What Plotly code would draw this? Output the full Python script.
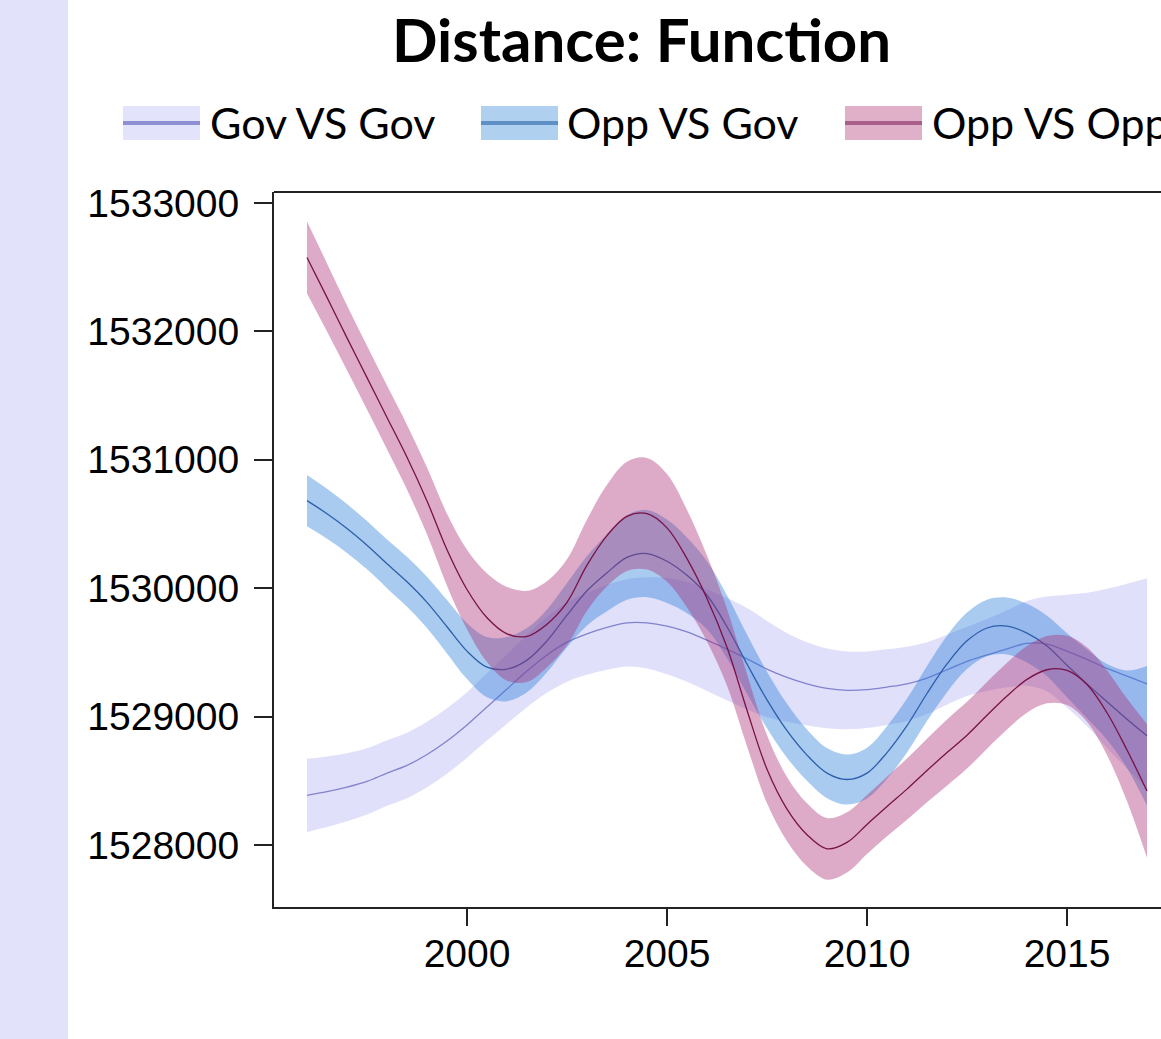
import plotly.graph_objects as go

# ---------------- data ----------------
years = [1996.0, 1996.5, 1997.0, 1997.5, 1998.0, 1998.5, 1999.0, 1999.5, 2000.0, 2000.5,
         2001.0, 2001.5, 2002.0, 2002.5, 2003.0, 2003.5, 2004.0, 2004.5, 2005.0, 2005.5,
         2006.0, 2006.5, 2007.0, 2007.5, 2008.0, 2008.5, 2009.0, 2009.5, 2010.0, 2010.5,
         2011.0, 2011.5, 2012.0, 2012.5, 2013.0, 2013.5, 2014.0, 2014.5, 2015.0, 2015.5,
         2016.0, 2016.5, 2017.0]

gov_vs_gov = [1528387, 1528415, 1528450, 1528495, 1528560, 1528620, 1528705, 1528810, 1528935, 1529075,
              1529215, 1529355, 1529480, 1529580, 1529645, 1529695, 1529730, 1529730, 1529705, 1529660,
              1529595, 1529525, 1529450, 1529370, 1529305, 1529255, 1529220, 1529205, 1529210, 1529230,
              1529255, 1529300, 1529365, 1529430, 1529480, 1529528, 1529570, 1529565, 1529510, 1529445,
              1529375, 1529315, 1529255]
gov_vs_gov_se = [285, 275, 265, 258, 255, 255, 255, 255, 255, 262,
                 270, 282, 295, 308, 320, 330, 340, 355, 375, 388,
                 395, 398, 395, 375, 345, 325, 310, 303, 298, 295,
                 290, 280, 272, 270, 280, 300, 330, 370, 440, 520,
                 620, 720, 820]

opp_vs_gov = [1530682, 1530580, 1530465, 1530335, 1530190, 1530050, 1529890, 1529700, 1529510, 1529385,
              1529370, 1529440, 1529590, 1529790, 1529980, 1530120, 1530240, 1530270, 1530210, 1530100,
              1529945, 1529700, 1529410, 1529130, 1528890, 1528700, 1528560, 1528510, 1528560, 1528720,
              1528930, 1529180, 1529410, 1529590, 1529690, 1529705, 1529650, 1529550, 1529400, 1529255,
              1529115, 1528980, 1528850]
opp_vs_gov_se = [200, 195, 190, 188, 190, 195, 200, 208, 218, 235,
                 250, 250, 245, 250, 270, 300, 330, 340, 325, 295,
                 265, 245, 230, 220, 210, 200, 195, 195, 198, 205,
                 210, 215, 220, 220, 220, 222, 228, 235, 250, 268,
                 295, 380, 545]

opp_vs_opp = [1532576, 1532265, 1531950, 1531640, 1531330, 1531020, 1530680, 1530300, 1529990, 1529770,
              1529645, 1529625, 1529720, 1529890, 1530180, 1530410, 1530560, 1530580, 1530470, 1530230,
              1529920, 1529540, 1529050, 1528590, 1528280, 1528080, 1527970, 1528020, 1528160, 1528300,
              1528435, 1528580, 1528720, 1528855, 1529010, 1529160, 1529290, 1529365, 1529360, 1529250,
              1529030, 1528740, 1528420]
opp_vs_opp_se = [280, 265, 252, 248, 248, 252, 260, 280, 310, 345,
                 365, 355, 335, 335, 355, 395, 425, 435, 420, 380,
                 335, 300, 280, 265, 250, 245, 240, 235, 230, 232,
                 238, 248, 258, 260, 260, 260, 260, 262, 270, 290,
                 330, 400, 520]

x_ticks = [2000, 2005, 2010, 2015]
y_ticks = [1528000, 1529000, 1530000, 1531000, 1532000, 1533000]
y_tick_labels = ["1528000", "1529000", "1530000", "1531000", "1532000", "1533000"]

series_names = ["Gov VS Gov", "Opp VS Gov", "Opp VS Opp"]
title_text = "Distance: Function"

# ---------------- styling ----------------
W, H = 1161, 1039
ML, MR, MT, MB = 274, 0, 192, 132
PW, PH = W - ML - MR, H - MT - MB


def px(x):
    return (x - ML) / PW


def py(y):
    return (H - MB - y) / PH


band_fills = ["rgba(180,180,245,0.42)", "rgba(40,125,218,0.40)", "rgba(170,45,115,0.40)"]
line_cols = ["rgb(130,130,205)", "rgb(45,95,170)", "rgb(120,18,70)"]
legend_fills = ["#E3E3FB", "#B0D0F0", "#E0B0C8"]
legend_lines = ["#8F8FD4", "#5F8FC4", "#A8608A"]

fig = go.Figure()

for name, center, se, fc, lc in zip(series_names,
                                    [gov_vs_gov, opp_vs_gov, opp_vs_opp],
                                    [gov_vs_gov_se, opp_vs_gov_se, opp_vs_opp_se],
                                    band_fills, line_cols):
    lower = [c - s for c, s in zip(center, se)]
    upper = [c + s for c, s in zip(center, se)]
    fig.add_trace(go.Scatter(x=years, y=lower, mode="lines", line=dict(width=0, shape="spline"),
                             hoverinfo="skip", showlegend=False))
    fig.add_trace(go.Scatter(x=years, y=upper, mode="lines", line=dict(width=0, shape="spline"),
                             fill="tonexty", fillcolor=fc, hoverinfo="skip", showlegend=False))
    fig.add_trace(go.Scatter(x=years, y=center, mode="lines", name=name,
                             line=dict(color=lc, width=1.3, shape="spline"), showlegend=False))

shapes = [
    # lavender slide strip on the left
    dict(type="rect", xref="paper", yref="paper", x0=px(0), x1=px(68), y0=py(H), y1=py(0),
         fillcolor="#E2E2FB", line=dict(width=0), layer="below"),
    # top frame line
    dict(type="line", xref="paper", yref="paper", x0=0, x1=1, y0=1, y1=1,
         line=dict(color="#222222", width=2)),
]

annotations = [
    dict(text="<b>" + title_text + "</b>", xref="paper", yref="paper", x=px(641), y=py(1),
         xanchor="center", yanchor="top", showarrow=False,
         font=dict(family="Lato", size=60, color="black")),
]

legend_box_x = [123, 481, 845]
legend_text_x = [208, 565, 930]
box_w = 77
box_top, box_bot, leg_mid = 106, 140, 123
for name, bx, tx, bf, bl in zip(series_names, legend_box_x, legend_text_x, legend_fills, legend_lines):
    shapes.append(dict(type="rect", xref="paper", yref="paper", x0=px(bx), x1=px(bx + box_w),
                       y0=py(box_bot), y1=py(box_top), fillcolor=bf, line=dict(width=0)))
    shapes.append(dict(type="line", xref="paper", yref="paper", x0=px(bx), x1=px(bx + box_w),
                       y0=py(leg_mid), y1=py(leg_mid), line=dict(color=bl, width=4)))
    annotations.append(dict(text=name, xref="paper", yref="paper", x=px(tx), y=py(leg_mid),
                            xanchor="left", yanchor="middle", showarrow=False,
                            font=dict(family="Lato", size=43, color="black")))

tick_font = dict(family="Liberation Sans, Arial, sans-serif", size=39, color="black")

fig.update_layout(
    width=W, height=H,
    margin=dict(l=ML, r=MR, t=MT, b=MB, pad=0),
    paper_bgcolor="white", plot_bgcolor="white",
    showlegend=False,
    shapes=shapes, annotations=annotations,
    xaxis=dict(range=[1995.175, 2017.35], tickvals=x_ticks, ticks="outside", ticklen=11,
               tickwidth=2, tickcolor="#222222", showline=True, linewidth=2, linecolor="#222222",
               showgrid=False, zeroline=False, tickfont=tick_font, ticklabelstandoff=0,
               minor=dict(tickmode="array", tickvals=x_ticks, ticks="outside", ticklen=17,
                          tickwidth=2, tickcolor="#222222", showgrid=False)),
    yaxis=dict(range=[1527517, 1533086], tickvals=y_ticks, ticktext=y_tick_labels, ticks="outside",
               ticklen=18, tickwidth=2, tickcolor="#222222", showline=True, linewidth=2,
               linecolor="#222222", showgrid=False, zeroline=False, tickfont=tick_font,
               ticklabelstandoff=7),
)

fig.write_html("out.html", config={"displayModeBar": False},
               post_script="document.body.style.margin='0px';")
